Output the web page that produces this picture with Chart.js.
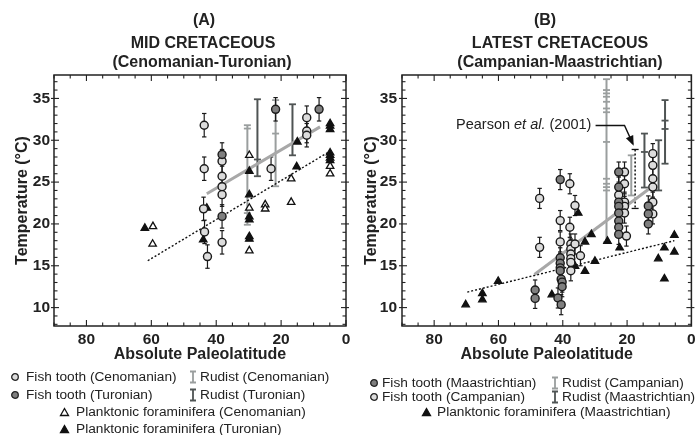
<!DOCTYPE html>
<html><head><meta charset="utf-8">
<script src="https://cdn.jsdelivr.net/npm/chart.js@4.4.1/dist/chart.umd.min.js"></script>
<style>
html,body{margin:0;padding:0;background:#fff;}
#wrap{position:relative;width:697px;height:435px;overflow:hidden;font-family:'Liberation Sans',Arial,Helvetica,sans-serif;color:#222;}
canvas{position:absolute;left:0;top:0;}
.t{position:absolute;white-space:nowrap;font-weight:bold;font-size:16px;line-height:18px;transform:translateX(-50%);}
.lg{position:absolute;white-space:nowrap;font-size:13.7px;line-height:16px;}
.ic{position:absolute;}
</style></head>
<body><div id="wrap">
<canvas id="ca" width="697" height="435"></canvas>
<canvas id="cb" width="697" height="435"></canvas>

<div class="t" style="left:204px;top:11px">(A)</div>
<div class="t" style="left:203px;top:34px">MID CRETACEOUS</div>
<div class="t" style="left:202px;top:53px">(Cenomanian-Turonian)</div>
<div class="t" style="left:545px;top:11px">(B)</div>
<div class="t" style="left:560px;top:34px">LATEST CRETACEOUS</div>
<div class="t" style="left:560px;top:53px">(Campanian-Maastrichtian)</div>

<!-- Legend A -->
<svg class="ic" style="left:10px;top:372px" width="10" height="10"><circle cx="5" cy="5" r="3.3" fill="#dcdcdc" stroke="#222" stroke-width="1.3"/></svg>
<div class="lg" style="left:26px;top:369px">Fish tooth (Cenomanian)</div>
<svg class="ic" style="left:188px;top:370px" width="10" height="14"><path d="M2 1.5H8M5 1.5V12.5M2 12.5H8" stroke="#9a9e9e" stroke-width="1.8" fill="none"/></svg>
<div class="lg" style="left:200px;top:369px">Rudist (Cenomanian)</div>
<svg class="ic" style="left:10px;top:390px" width="10" height="10"><circle cx="5" cy="5" r="3.3" fill="#7f7f7f" stroke="#222" stroke-width="1.3"/></svg>
<div class="lg" style="left:26px;top:387px">Fish tooth (Turonian)</div>
<svg class="ic" style="left:188px;top:388px" width="10" height="14"><path d="M2 1.5H8M5 1.5V12.5M2 12.5H8" stroke="#4f5454" stroke-width="1.8" fill="none"/></svg>
<div class="lg" style="left:200px;top:387px">Rudist (Turonian)</div>
<svg class="ic" style="left:59px;top:407px" width="11" height="10"><path d="M5.5 1.5L9.5 8.5H1.5Z" fill="#fff" stroke="#111" stroke-width="1.3"/></svg>
<div class="lg" style="left:76px;top:404px">Planktonic foraminifera (Cenomanian)</div>
<svg class="ic" style="left:59px;top:424px" width="11" height="10"><path d="M5.5 1.5L9.5 8.5H1.5Z" fill="#111" stroke="#111" stroke-width="1.3"/></svg>
<div class="lg" style="left:76px;top:421px">Planktonic foraminifera (Turonian)</div>

<!-- Legend B -->
<svg class="ic" style="left:369px;top:378px" width="10" height="10"><circle cx="5" cy="5" r="3.3" fill="#7f7f7f" stroke="#222" stroke-width="1.3"/></svg>
<div class="lg" style="left:382px;top:375px">Fish tooth (Maastrichtian)</div>
<svg class="ic" style="left:550px;top:376px" width="10" height="14"><path d="M2 1.5H8M5 1.5V12.5M2 12.5H8" stroke="#9a9e9e" stroke-width="1.8" fill="none"/></svg>
<div class="lg" style="left:562px;top:375px">Rudist (Campanian)</div>
<svg class="ic" style="left:369px;top:392px" width="10" height="10"><circle cx="5" cy="5" r="3.3" fill="#dcdcdc" stroke="#222" stroke-width="1.3"/></svg>
<div class="lg" style="left:382px;top:389px">Fish tooth (Campanian)</div>
<svg class="ic" style="left:550px;top:390px" width="10" height="14"><path d="M2 1.5H8M5 1.5V12.5M2 12.5H8" stroke="#4f5454" stroke-width="1.8" fill="none"/></svg>
<div class="lg" style="left:562px;top:389px">Rudist (Maastrichtian)</div>
<svg class="ic" style="left:421px;top:407px" width="11" height="10"><path d="M5.5 1.5L9.5 8.5H1.5Z" fill="#111" stroke="#111" stroke-width="1.3"/></svg>
<div class="lg" style="left:437px;top:404px">Planktonic foraminifera (Maastrichtian)</div>
</div>

<script>
const FONT = "'Liberation Sans', Arial, Helvetica, sans-serif";
const X_TICKS = [0, 20, 40, 60, 80];
const Y_TICKS = [10, 15, 20, 25, 30, 35];
const LAT_MIN = 0, LAT_MAX = 90, T_MIN = 7.8, T_MAX = 37.8;
const X_MINOR_STEP = 5, X_MAJOR_STEP = 20, Y_MINOR_STEP = 1, Y_MAJOR_STEP = 5;

// ---------- Panel A : mid Cretaceous ----------
const fishCenA = [[43.7,31.8],[43.7,26.6],[43.9,21.8],[43.6,19.05],[42.7,16.1],[38.2,27.5],[38.2,25.7],
  [38.2,24.45],[38.2,23.5],[38.2,17.8],[23.1,26.6],[12.1,32.7],[12.1,31.1],[12.1,30.6]];
const fishTurA = [[38.2,28.3],[38.2,20.9],[21.7,33.7],[8.3,33.7]];
const foramCenA = [[59.5,19.7],[59.6,17.6],[29.8,28.2],[29.8,21.9],[29.8,16.8],[24.9,22.3],[24.9,21.8],
  [16.9,25.4],[16.9,22.6],[4.9,26.9],[4.9,26.0]];
const foramTurA = [[62,19.5],[42.9,21.9],[44,18.1],[29.8,26.3],[29.8,23.5],[29.8,20.85],[29.8,20.5],
  [29.8,18.5],[29.8,18.2],[15,29.8],[15.2,26.85],[4.9,32.0],[4.9,31.7],[4.9,31.3],[4.9,28.5],[4.9,28.2],
  [4.9,27.9],[4.9,27.6]];
const fishErrA = 1.4;
const rudCenA_lat = [30.4, 21.7];
const rudCenA_lo = [19.9, 24.5];
const rudCenA_hi = [31.8, 34.8];
const rudCenA_marks = [[31.4, 21.3], [30.8]];
const rudTurA_lat = [27.3, 16.5];
const rudTurA_lo = [25.7, 28.2];
const rudTurA_hi = [34.9, 34.3];
const rudTurA_marks = [[27.7], []];
const fishFitA = [[42.9,23.6],[8,31.6]];
const foramFitA = [[61.1,15.6],[4.9,28.7]];

// ---------- Panel B : latest Cretaceous ----------
const fishCampB = [[47.2,23.05],[47.2,17.2],[37.8,24.8],[36.2,22.2],[40.8,20.4],[40.8,17.85],[37.8,19.6],
  [37.5,17.6],[37.5,17.0],[37.5,16.4],[37.5,15.85],[37.5,15.4],[37.5,14.4],[36.2,17.6],[34.5,16.2],
  [20.8,26.2],[20.8,24.8],[22.6,23.45],[20.8,22.6],[20.8,22.1],[20.8,21.3],[20.2,18.55],
  [12,28.4],[12,27.0],[12,25.4],[12,24.4],[12,22.6],[12,21.2]];
const fishMaasB = [[40.8,25.3],[48.6,12.1],[48.6,11.1],[40.8,15.95],[40.8,15.3],[40.8,14.75],[40.8,14.4],
  [40.5,13.4],[40.2,13.05],[40.2,12.5],[41.5,11.15],[40.5,10.35],[22.6,26.2],[22.6,24.4],[22.6,22.6],
  [22.6,22.1],[22.6,21.3],[22.6,20.35],[22.6,19.6],[22.6,18.75],[13.4,22.15],[13.4,21.2],[13.4,20.0]];
const foramMaasB = [[70.2,10.35],[65,11.7],[65,10.95],[60.1,13.15],[43.4,11.55],[35.2,21.3],[36.2,14.95],
  [33.1,17.85],[33.1,14.35],[31.1,18.75],[30,15.55],[26.1,17.95],[22.3,17.15],[10.3,15.85],[8.4,13.45],
  [8.4,17.15],[5.3,18.65],[5.3,16.65]];
const fishErrB = 1.2;
const rudCampB_lat = [26.4, 18.7];
const rudCampB_lo = [17.8, 23.4];
const rudCampB_hi = [37.3, 28.2];
const rudCampB_marks = [[36.0,35.6,35.2,34.6,33.8,33.35,29.8,25.4,24.8,24.4,24.0], []];
const rudMaasB_lat = [14.6, 10.2, 8.2];
const rudMaasB_lo = [24.35, 24.0, 27.2];
const rudMaasB_hi = [30.8, 30.0, 34.8];
const rudMaasB_marks = [[28.6], [], [32.35, 31.35]];
const pearsonLat = [17.5], pearsonLo = [21.85], pearsonHi = [28.9];
const fishFitB = [[48.8,13.95],[13.1,24.2]];
const foramFitB = [[69.7,11.85],[5.3,18.0]];
const noteText = ['Pearson ', 'et al.', ' (2001)'];
const noteAnchor = [73.2, 31.85];
const noteArrow = [[29.8,31.76],[20.8,31.76],[18.2,29.57]];

// ---------- helpers ----------
const LIGHT = '#dcdcdc', DARK = '#7f7f7f', RUD_LIGHT = '#9a9e9e', RUD_DARK = '#4f5454';
const pts = arr => arr.map(([x, y]) => ({x, y}));
const rudList = (lat, lo, hi, marks, color, dashed) =>
  lat.map((l, i) => ({lat: l, lo: lo[i], hi: hi[i], marks: (marks && marks[i]) || [], color, dashed}));

function fishDs(arr, fill, err, order) {
  return {data: pts(arr), pointRadius: 4, pointHoverRadius: 4, pointBackgroundColor: fill,
    pointBorderColor: '#1a1a1a', pointBorderWidth: 1.4, showLine: false, err, order};
}
function foramDs(arr, filled, order) {
  return {data: pts(arr), pointStyle: 'triangle', pointRadius: 4.3, pointHoverRadius: 4.3,
    pointBackgroundColor: filled ? '#111' : '#fff', pointBorderColor: '#111', pointBorderWidth: 1.3,
    showLine: false, order};
}
function lineDs(arr, color, width, dash, order) {
  return {data: pts(arr), showLine: true, borderColor: color, borderWidth: width, borderDash: dash,
    pointRadius: 0, fill: false, order};
}

const EXTRAS = {
  ca: {rudists: [...rudList(rudCenA_lat, rudCenA_lo, rudCenA_hi, rudCenA_marks, RUD_LIGHT, false),
                 ...rudList(rudTurA_lat, rudTurA_lo, rudTurA_hi, rudTurA_marks, RUD_DARK, false)]},
  cb: {rudists: [...rudList(rudCampB_lat, rudCampB_lo, rudCampB_hi, rudCampB_marks, RUD_LIGHT, false),
                 ...rudList(rudMaasB_lat, rudMaasB_lo, rudMaasB_hi, rudMaasB_marks, RUD_DARK, false),
                 ...rudList(pearsonLat, pearsonLo, pearsonHi, null, '#111', true)],
       note: {text: noteText, anchor: noteAnchor, arrow: noteArrow}}
};

function seg(ctx, x1, y1, x2, y2) { ctx.beginPath(); ctx.moveTo(x1, y1); ctx.lineTo(x2, y2); ctx.stroke(); }

const extrasPlugin = {
  id: 'extras',
  beforeDatasetsDraw(chart) {
    const ex = EXTRAS[chart.canvas.id];
    const {ctx, scales: {x, y}} = chart;
    ctx.save();
    ctx.lineCap = 'butt';
    ex.rudists.forEach(r => {
      const px = x.getPixelForValue(r.lat);
      const y1 = y.getPixelForValue(r.hi), y2 = y.getPixelForValue(r.lo);
      ctx.strokeStyle = r.color;
      ctx.lineWidth = r.dashed ? 1.5 : 2;
      ctx.setLineDash(r.dashed ? [2, 2] : []);
      seg(ctx, px, y1, px, y2);
      ctx.setLineDash([]);
      ctx.lineWidth = r.dashed ? 1.3 : 1.8;
      [r.hi, r.lo, ...r.marks].forEach(v => {
        const py = y.getPixelForValue(v);
        seg(ctx, px - 3.5, py, px + 3.5, py);
      });
    });
    chart.data.datasets.forEach(ds => {
      if (!ds.err) return;
      ctx.strokeStyle = '#1a1a1a';
      ctx.lineWidth = 1.2;
      ds.data.forEach(p => {
        const px = x.getPixelForValue(p.x);
        const a = y.getPixelForValue(p.y + ds.err), b = y.getPixelForValue(p.y - ds.err);
        seg(ctx, px, a, px, b);
        seg(ctx, px - 2.2, a, px + 2.2, a);
        seg(ctx, px - 2.2, b, px + 2.2, b);
      });
    });
    ctx.restore();
  },
  afterDraw(chart) {
    const ex = EXTRAS[chart.canvas.id];
    const {ctx, chartArea: a, scales: {x, y}} = chart;
    ctx.save();
    ctx.strokeStyle = '#222';
    ctx.lineWidth = 1.5;
    ctx.strokeRect(a.left, a.top, a.right - a.left, a.bottom - a.top);
    ctx.lineWidth = 1.1;
    for (let v = LAT_MIN; v <= LAT_MAX; v += X_MINOR_STEP) {
      const px = x.getPixelForValue(v);
      const L = v % X_MAJOR_STEP === 0 ? 6 : 3.5;
      seg(ctx, px, a.bottom, px, a.bottom - L);
      seg(ctx, px, a.top, px, a.top + L);
    }
    for (let v = Math.ceil(T_MIN); v <= T_MAX; v += Y_MINOR_STEP) {
      const py = y.getPixelForValue(v);
      if (v % Y_MAJOR_STEP === 0) {
        seg(ctx, a.left - 3, py, a.left + 5, py);
        seg(ctx, a.right - 5, py, a.right + 3, py);
      } else {
        seg(ctx, a.left, py, a.left + 3.5, py);
        seg(ctx, a.right - 3.5, py, a.right, py);
      }
    }
    if (ex.note) {
      const n = ex.note;
      let tx = x.getPixelForValue(n.anchor[0]);
      const ty = y.getPixelForValue(n.anchor[1]);
      ctx.fillStyle = '#222';
      ctx.textBaseline = 'middle';
      ctx.textAlign = 'left';
      n.text.forEach((s, i) => {
        ctx.font = (i === 1 ? 'italic ' : '') + '14.5px ' + FONT;
        ctx.fillText(s, tx, ty);
        tx += ctx.measureText(s).width;
      });
      const P = n.arrow.map(([la, t]) => [x.getPixelForValue(la), y.getPixelForValue(t)]);
      ctx.strokeStyle = '#111';
      ctx.lineWidth = 1.4;
      ctx.beginPath();
      ctx.moveTo(P[0][0], P[0][1]);
      for (let i = 1; i < P.length; i++) ctx.lineTo(P[i][0], P[i][1]);
      ctx.stroke();
      const [x2, y2] = P[P.length - 1], [x1, y1] = P[P.length - 2];
      const ang = Math.atan2(y2 - y1, x2 - x1);
      ctx.fillStyle = '#111';
      ctx.beginPath();
      ctx.moveTo(x2 + 2 * Math.cos(ang), y2 + 2 * Math.sin(ang));
      ctx.lineTo(x2 - 8 * Math.cos(ang) + 4 * Math.sin(ang), y2 - 8 * Math.sin(ang) - 4 * Math.cos(ang));
      ctx.lineTo(x2 - 8 * Math.cos(ang) - 4 * Math.sin(ang), y2 - 8 * Math.sin(ang) + 4 * Math.cos(ang));
      ctx.closePath();
      ctx.fill();
    }
    ctx.restore();
  }
};

function makeOptions(p) {
  const tickFont = {family: FONT, size: 15.5, weight: 'bold'};
  const titleFont = {family: FONT, size: 16, weight: 'bold'};
  return {
    responsive: false, animation: false, devicePixelRatio: 1, events: [],
    layout: {padding: {left: p.padL, right: p.padR, top: 75, bottom: 0}},
    plugins: {legend: {display: false}, tooltip: {enabled: false}, title: {display: false}},
    scales: {
      x: {type: 'linear', reverse: true, min: LAT_MIN, max: LAT_MAX,
        grid: {display: false, drawTicks: false}, border: {display: false},
        afterBuildTicks: s => { s.ticks = X_TICKS.map(v => ({value: v})); },
        afterFit: s => { s.height = 109; s.paddingLeft = 0; s.paddingRight = 0; },
        ticks: {font: tickFont, color: '#222', padding: 4, maxRotation: 0, autoSkip: false},
        title: {display: true, text: 'Absolute Paleolatitude', font: titleFont, color: '#222',
          padding: {top: 0, bottom: 71}}},
      y: {type: 'linear', min: T_MIN, max: T_MAX,
        grid: {display: false, drawTicks: false}, border: {display: false},
        afterBuildTicks: s => { s.ticks = Y_TICKS.map(v => ({value: v})); },
        afterFit: s => { s.width = 54; s.paddingTop = 0; s.paddingBottom = 0; },
        ticks: {font: tickFont, color: '#222', padding: p.yTickPad, autoSkip: false},
        title: {display: true, text: 'Temperature (°C)', font: titleFont, color: '#222',
          padding: {top: p.yTitlePad, bottom: 0}}}
    }
  };
}

new Chart(document.getElementById('ca'), {
  type: 'scatter',
  data: {datasets: [
    fishDs(fishCenA, LIGHT, fishErrA, 1),
    fishDs(fishTurA, DARK, fishErrA, 0),
    foramDs(foramCenA, false, 3),
    foramDs(foramTurA, true, 2),
    lineDs(fishFitA, '#a8a8a8', 3, [], 4),
    lineDs(foramFitA, '#111', 1.4, [2, 2], 5)
  ]},
  options: makeOptions({padL: 0, padR: 697 - 346, yTitlePad: 13, yTickPad: 4}),
  plugins: [extrasPlugin]
});

new Chart(document.getElementById('cb'), {
  type: 'scatter',
  data: {datasets: [
    fishDs(fishCampB, LIGHT, fishErrB, 1),
    fishDs(fishMaasB, DARK, fishErrB, 0),
    foramDs(foramMaasB, true, 2),
    lineDs(fishFitB, '#a8a8a8', 3, [], 4),
    lineDs(foramFitB, '#111', 1.4, [2, 2], 5)
  ]},
  options: makeOptions({padL: 348, padR: 2, yTitlePad: 14, yTickPad: 5}),
  plugins: [extrasPlugin]
});
</script>
</body></html>
